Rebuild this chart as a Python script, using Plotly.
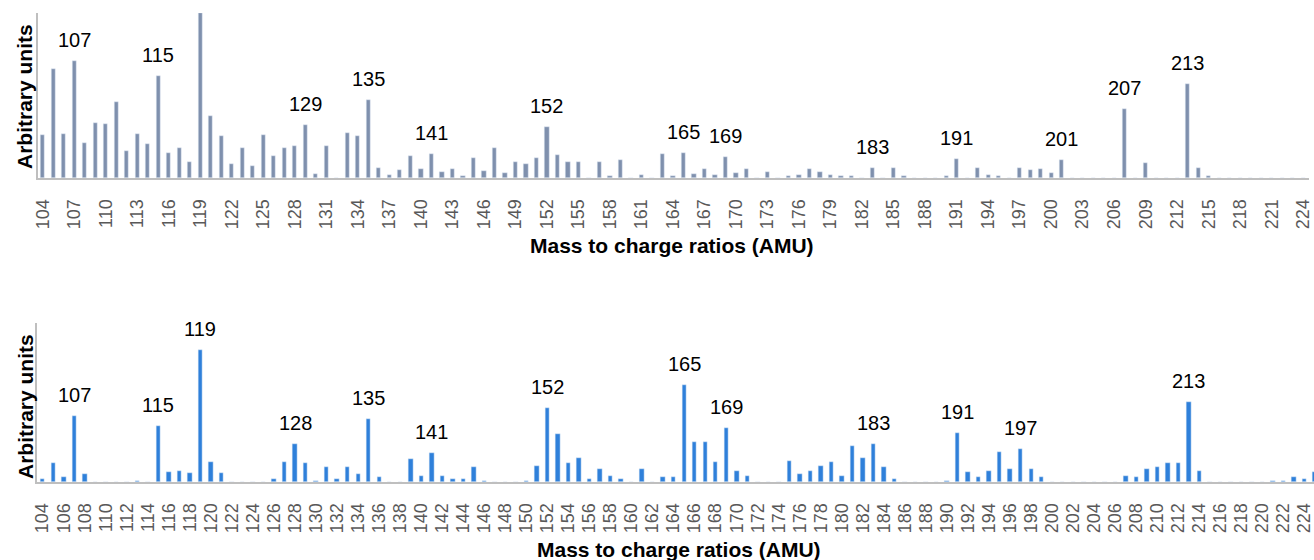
import plotly.graph_objects as go

# ---------------- data ----------------
mz_top = list(range(104, 225))
# intensities (arbitrary units), m/z 104..224
top_vals = [
    42.7, 108.7, 43.7, 117.3, 35, 55.3, 54.3, 75.7, 26.7, 43.7,      # 104-113
    33.7, 102.3, 25.3, 30, 15.7, 165, 61.7, 41.7, 13.7, 30,          # 114-123
    11.7, 42.7, 22.3, 30, 32, 53.3, 4, 32, 0, 45.3,                  # 124-133
    41.7, 77.7, 10.3, 3, 8.3, 22.3, 9.3, 24.3, 5.7, 9,               # 134-143
    1.7, 20, 7, 29.7, 5, 15.7, 13.7, 20, 51, 23,                     # 144-153
    15.7, 15.7, 0, 15.7, 1.7, 17.7, 0, 2.7, 0, 24.3,                 # 154-163
    1.7, 25.3, 4, 9, 2.7, 21, 5, 9, 0, 5.7,                          # 164-173
    0, 1.7, 2.7, 9, 5.7, 2.7, 1.7, 1.7, 0, 10.3,                     # 174-183
    0, 10.3, 1.7, 0, 0, 0, 1.7, 18.7, 0, 10.3,                       # 184-193
    2.7, 1.7, 0, 10.3, 8, 9, 5, 17.7, 0, 0,                          # 194-203
    0, 0, 0, 69, 0, 14.7, 0, 0, 0, 93.7,                             # 204-213
    10.3, 1.7, 0, 0, 0, 0, 0, 0, 0, 0,                               # 214-223
    0,                                                               # 224
]
top_labels = [107, 115, 129, 135, 141, 152, 165, 169, 183, 191, 201, 207, 213]
top_ticks = list(range(104, 225, 3))

mz_bot = list(range(104, 226))
# intensities (arbitrary units), m/z 104..225
bot_vals = [
    3.3, 18.7, 4.7, 66.3, 8, 0, 0, 0, 0, 1.3,                        # 104-113
    0, 55.7, 10.3, 11.3, 9, 132.3, 19.7, 9, 0, 0,                    # 114-123
    0, 0, 3.3, 19.7, 38.3, 18.7, 1.3, 14.7, 3.3, 14.7,               # 124-133
    8, 63.3, 4.7, 0, 0, 23.3, 5.7, 28.7, 5.7, 3.3,                   # 134-143
    3.3, 14.7, 1.3, 0, 0, 0, 1.3, 15.7, 73.7, 48,                    # 144-153
    18.7, 24.3, 3.3, 13.3, 5.7, 3.3, 0, 13.3, 0, 4.7,                # 154-163
    4.7, 97.3, 40.3, 40.3, 19.7, 54.3, 11.3, 5.7, 0, 0,              # 164-173
    0, 21, 8, 11.3, 15.7, 19.7, 5.7, 36, 24.3, 38.3,                 # 174-183
    14.7, 3.3, 0, 0, 0, 0, 1.3, 49, 10.3, 4.7,                       # 184-193
    11.3, 29.7, 13.3, 33, 13.3, 4.7, 0, 0, 0, 0,                     # 194-203
    0, 0, 0, 5.7, 4.7, 13.3, 14.7, 18.7, 18.7, 80.3,                 # 204-213
    11.3, 0, 0, 0, 0, 0, 0, 1.3, 1.3, 4.7,                           # 214-223
    3.3, 10,                                                         # 224-225
]
bot_labels = [107, 115, 119, 128, 135, 141, 152, 165, 169, 183, 191, 197, 213]
bot_ticks = list(range(104, 225, 2))

x_title = "Mass to charge ratios (AMU)"
y_title = "Arbitrary units"

# ---------------- styling ----------------
FONT = "Liberation Sans, Arial, sans-serif"
TOP_COLOR = "#7f90ad"
BOT_COLOR = "#2f80da"
AXIS_COLOR = "#bfbfbf"
TICK_COLOR = "#595959"
W, H = 1314, 560


def px_x(p):
    return p / W


def px_y(p):
    return 1 - p / H


fig = go.Figure()
fig.add_trace(go.Bar(x=mz_top, y=top_vals, marker_color=TOP_COLOR,
                     width=0.4, xaxis="x", yaxis="y", showlegend=False))
fig.add_trace(go.Bar(x=mz_bot, y=bot_vals, marker_color=BOT_COLOR,
                     width=0.42, xaxis="x2", yaxis="y2", showlegend=False))

annotations = []
for m in top_labels:
    annotations.append(dict(x=m, y=top_vals[mz_top.index(m)], xref="x", yref="y",
                            text=str(m), showarrow=False, yanchor="bottom",
                            yshift=8, font=dict(family=FONT, size=20, color="#000000")))
for m in bot_labels:
    annotations.append(dict(x=m, y=bot_vals[mz_bot.index(m)], xref="x2", yref="y2",
                            text=str(m), showarrow=False, yanchor="bottom",
                            yshift=8, font=dict(family=FONT, size=20, color="#000000")))

title_font = dict(family=FONT, size=21, color="#000000")
annotations += [
    dict(x=px_x(672), y=px_y(245), xref="paper", yref="paper", text="<b>%s</b>" % x_title,
         showarrow=False, xanchor="center", yanchor="middle", font=title_font),
    dict(x=px_x(679), y=px_y(549), xref="paper", yref="paper", text="<b>%s</b>" % x_title,
         showarrow=False, xanchor="center", yanchor="middle", font=title_font),
    dict(x=px_x(24), y=px_y(97), xref="paper", yref="paper", text="<b>%s</b>" % y_title,
         showarrow=False, textangle=-90, xanchor="center", yanchor="middle", font=title_font),
    dict(x=px_x(25), y=px_y(407), xref="paper", yref="paper", text="<b>%s</b>" % y_title,
         showarrow=False, textangle=-90, xanchor="center", yanchor="middle", font=title_font),
]

xcommon = dict(showgrid=False, zeroline=False, showline=True, linecolor=AXIS_COLOR,
               linewidth=2, tickangle=-90, ticks="", automargin=False,
               tickfont=dict(family=FONT, size=18, color=TICK_COLOR),
               ticklabelstandoff=12, ticklabeloverflow="allow")
ycommon = dict(showgrid=False, zeroline=False, showline=True, linecolor=AXIS_COLOR,
               linewidth=2, showticklabels=False, ticks="", automargin=False)

fig.update_layout(
    width=W, height=H,
    margin=dict(l=0, r=0, t=0, b=0),
    paper_bgcolor="white", plot_bgcolor="white",
    bargap=0,
    xaxis=dict(**xcommon, domain=[px_x(37.5), px_x(1308.5)], range=[103.5, 224.5],
               tickmode="array", tickvals=top_ticks, ticktext=[str(t) for t in top_ticks],
               anchor="y"),
    yaxis=dict(**ycommon, domain=[px_y(178), px_y(13)], range=[0, 165], anchor="x"),
    xaxis2=dict(**xcommon, domain=[px_x(37.4), 1.0], range=[103.5, 224.9],
                tickmode="array", tickvals=bot_ticks, ticktext=[str(t) for t in bot_ticks],
                anchor="y2"),
    yaxis2=dict(**ycommon, domain=[px_y(482), px_y(323)], range=[0, 159], anchor="x2"),
    annotations=annotations,
)

fig.write_html("out.html", config={"displayModeBar": False},
               post_script="document.body.style.margin='0';document.body.style.overflow='hidden';")
